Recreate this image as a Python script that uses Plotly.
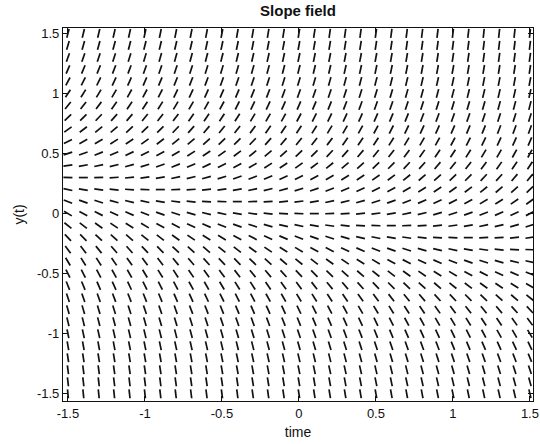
import math
import plotly.graph_objects as go

# ---- data ---------------------------------------------------------------
# grid of sample points for the slope field (time on x, y(t) on y)
t_grid = [-1.5, -1.4, -1.3, -1.2, -1.1, -1.0, -0.9, -0.8, -0.7, -0.6, -0.5,
          -0.4, -0.3, -0.2, -0.1, 0.0, 0.1, 0.2, 0.3, 0.4, 0.5, 0.6, 0.7,
          0.8, 0.9, 1.0, 1.1, 1.2, 1.3, 1.4, 1.5]
y_grid = [-1.5, -1.4, -1.3, -1.2, -1.1, -1.0, -0.9, -0.8, -0.7, -0.6, -0.5,
          -0.4, -0.3, -0.2, -0.1, 0.0, 0.1, 0.2, 0.3, 0.4, 0.5, 0.6, 0.7,
          0.8, 0.9, 1.0, 1.1, 1.2, 1.3, 1.4, 1.5]

# right-hand side dy/dt = f(t, y):
# zero-slope curve y0(t) = nullcline_slope * t + nullcline_offset,
# slope grows with the distance d = y - y0(t)
nullcline_slope = -0.2
nullcline_offset = 0.02
lin_gain = 2.2
cubic_gain = 1.5

tick_vals = [-1.5, -1.0, -0.5, 0.0, 0.5, 1.0, 1.5]
tick_text = ["-1.5", "-1", "-0.5", "0", "0.5", "1", "1.5"]


def rate(t, y):
    d = y - (nullcline_slope * t + nullcline_offset)
    return lin_gain * d + cubic_gain * d ** 3


# ---- layout geometry ----------------------------------------------------
W, H = 540, 444
ml, mr, mt, mb = 63, 7, 28, 43
x_range = [-1.532, 1.52]
y_range = [-1.56, 1.545]
pw, ph = W - ml - mr, H - mt - mb
sx = pw / (x_range[1] - x_range[0])   # px per unit (x)
sy = ph / (y_range[1] - y_range[0])   # px per unit (y)
seg_px = 9.0                           # segment length in pixels

xs, ys = [], []
for t in t_grid:
    for y in y_grid:
        s = rate(t, y)
        vx, vy = sx, s * sy
        n = math.hypot(vx, vy)
        hx = 0.5 * seg_px * vx / n / sx
        hy = 0.5 * seg_px * vy / n / sy
        xs += [t - hx, t + hx, None]
        ys += [y - hy, y + hy, None]

fig = go.Figure()
fig.add_trace(go.Scatter(x=xs, y=ys, mode="lines",
                         line=dict(color="#111111", width=1.7),
                         hoverinfo="skip", showlegend=False))

font = dict(family="Liberation Sans, Arial, Helvetica, sans-serif",
            size=13, color="#111111")

axis_common = dict(showgrid=False, zeroline=False, showline=True,
                   linecolor="#111111", linewidth=1.2, mirror="ticks",
                   ticks="inside", ticklen=5, tickwidth=1,
                   tickcolor="#111111", tickvals=tick_vals,
                   ticktext=tick_text, tickfont=font,
                   ticklabeloverflow="allow")

fig.update_layout(
    width=W, height=H,
    margin=dict(l=ml, r=mr, t=mt, b=mb, autoexpand=False),
    paper_bgcolor="white", plot_bgcolor="white",
    font=font,
    title=dict(text="<b>Slope field</b>", x=0.5, xref="paper",
               y=1 - 11 / H, yref="container", yanchor="middle",
               xanchor="center",
               font=dict(family=font["family"], size=15, color="#111111")),
    xaxis=dict(range=x_range, title=dict(text="time", standoff=7,
                                         font=dict(font, size=14)),
               **axis_common),
    yaxis=dict(range=y_range, title=dict(text="y(t)", standoff=8,
                                         font=dict(font, size=14)),
               **axis_common),
)

fig.write_html("out.html",
               config={"displayModeBar": False},
               post_script="document.body.style.margin='0';"
                           "document.body.style.padding='0';")
